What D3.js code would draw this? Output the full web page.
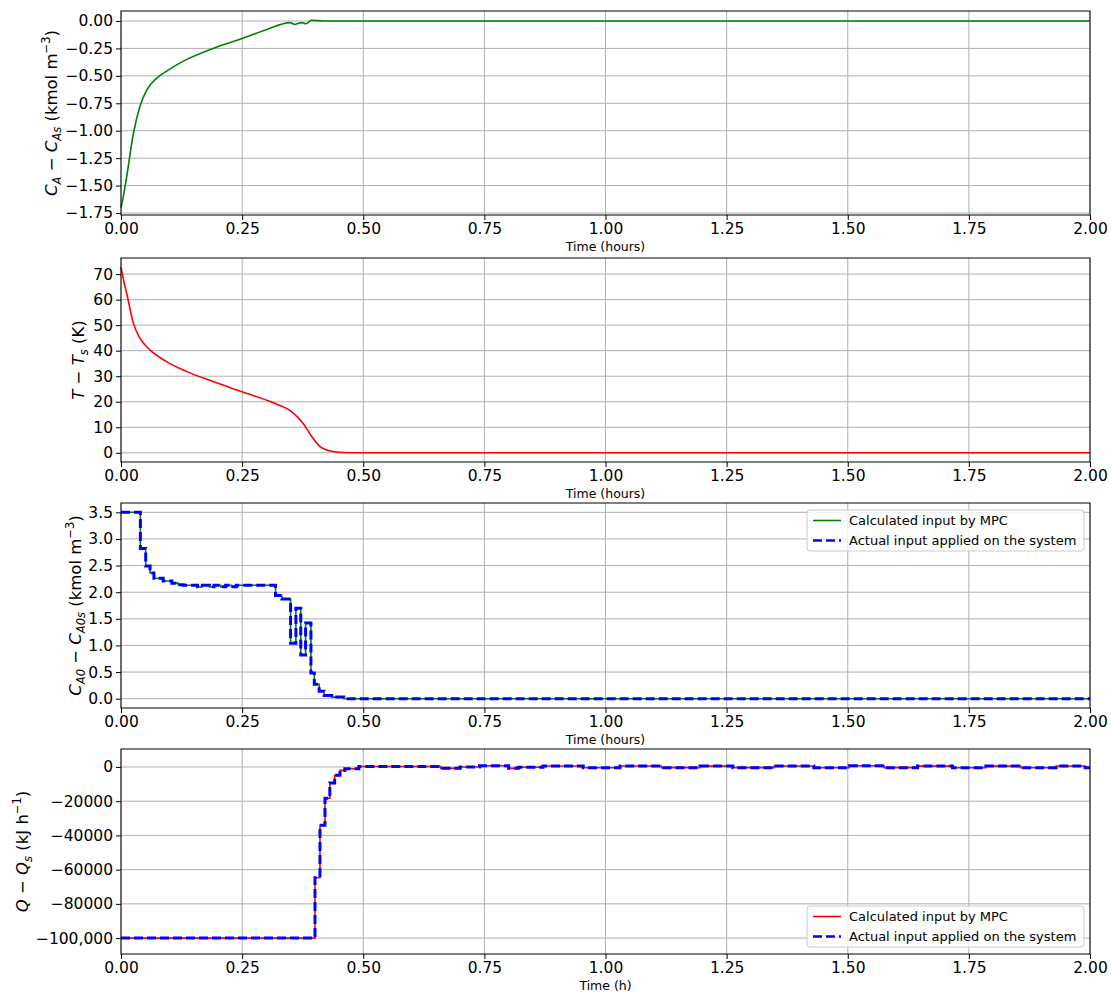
<!DOCTYPE html>
<html>
<head>
<meta charset="utf-8">
<script src="https://cdn.jsdelivr.net/npm/d3@7"></script>
<style>
  body { margin: 0; background: #fff; }
  text { font-family: "DejaVu Sans", sans-serif; fill: #000; }
</style>
</head>
<body>
<script>
// ---- data ----
const timeCA = [0, 0.006, 0.0117, 0.0254, 0.039, 0.053, 0.074, 0.095, 0.115, 0.136, 0.19, 0.25, 0.30, 0.349, 0.359, 0.366, 0.373, 0.382, 0.393, 0.42, 2.0];
const devCA = [-1.70, -1.57, -1.42, -1.03, -0.78, -0.63, -0.52, -0.455, -0.40, -0.35, -0.25, -0.16, -0.08, -0.015, -0.032, -0.02, -0.015, -0.025, 0.006, 0.0, 0.0];

const timeT = [0, 0.006, 0.0117, 0.0254, 0.039, 0.06, 0.094, 0.136, 0.19, 0.25, 0.314, 0.352, 0.376, 0.394, 0.411, 0.432, 0.46, 0.5, 2.0];
const devT = [72.7, 67.0, 62.5, 50.8, 44.9, 40.3, 35.7, 31.8, 27.9, 23.9, 19.6, 16.1, 11.5, 6.3, 2.4, 0.7, 0.1, 0, 0];

const stepTimeCA0 = [0, 0.040, 0.051, 0.060, 0.068, 0.087, 0.105, 0.118, 0.129, 0.158, 0.168, 0.183, 0.192, 0.206, 0.216, 0.228, 0.238, 0.319, 0.332, 0.350, 0.361, 0.371, 0.381, 0.392, 0.399, 0.409, 0.419, 0.435, 0.46, 2.0];
const stepCA0 = [3.5, 2.82, 2.49, 2.36, 2.26, 2.21, 2.17, 2.14, 2.13, 2.10, 2.13, 2.10, 2.13, 2.10, 2.13, 2.10, 2.13, 1.94, 1.87, 1.04, 1.70, 0.82, 1.42, 0.48, 0.27, 0.14, 0.06, 0.03, 0.0, 0.0];

const stepTimeQ = [0, 0.4004, 0.4107, 0.421, 0.431, 0.441, 0.452, 0.462, 0.491, 0.66, 0.70, 0.74, 0.80, 0.82, 0.871, 0.954, 1.03, 1.115, 1.195, 1.263, 1.348, 1.43, 1.503, 1.575, 1.644, 1.716, 1.785, 1.857, 1.93, 1.99, 2.0];
const stepQ = [-100000, -64700, -34100, -18300, -9300, -4900, -2000, -1000, 300, -800, 0, 700, -800, -200, 600, -500, 600, -400, 500, -400, 600, -500, 700, -400, 500, -500, 500, -500, 600, -500, -500];

const xTickValues = [0, 0.25, 0.5, 0.75, 1.0, 1.25, 1.5, 1.75, 2.0];
const xTickLabels = ["0.00", "0.25", "0.50", "0.75", "1.00", "1.25", "1.50", "1.75", "2.00"];

const yTicksCA = [0, -0.25, -0.5, -0.75, -1.0, -1.25, -1.5, -1.75];
const yLabelsCA = ["0.00", "\u22120.25", "\u22120.50", "\u22120.75", "\u22121.00", "\u22121.25", "\u22121.50", "\u22121.75"];
const yTicksT = [0, 10, 20, 30, 40, 50, 60, 70];
const yLabelsT = ["0", "10", "20", "30", "40", "50", "60", "70"];
const yTicksCA0 = [0, 0.5, 1.0, 1.5, 2.0, 2.5, 3.0, 3.5];
const yLabelsCA0 = ["0.0", "0.5", "1.0", "1.5", "2.0", "2.5", "3.0", "3.5"];
const yTicksQ = [0, -20000, -40000, -60000, -80000, -100000];
const yLabelsQ = ["0", "\u221220000", "\u221240000", "\u221260000", "\u221280000", "\u2212100,000"];

const legendNames = ["Calculated input by MPC", "Actual input applied on the system"];

// ---- layout ----
const width = 1111, height = 992;
const plotLeft = 121, plotRight = 1090;

const svg = d3.select("body").append("svg")
  .attr("width", width)
  .attr("height", height);

const x = d3.scaleLinear().domain([0, 2]).range([plotLeft, plotRight]);

// builds a rotated axis label from parts: [text, italic, shift]
function yLabel(g, px, cy, parts) {
  const t = g.append("text")
    .attr("transform", `translate(${px},${cy}) rotate(-90)`)
    .attr("text-anchor", "middle")
    .style("font-size", "16.5px");
  let cur = 0;
  parts.forEach(p => {
    const shift = p[2] || 0;
    t.append("tspan")
      .attr("dy", shift - cur)
      .style("font-style", p[1] ? "italic" : "normal")
      .style("font-size", shift !== 0 ? "11.5px" : "16.5px")
      .text(p[0]);
    cur = shift;
  });
}

function drawPanel(p) {
  const y = d3.scaleLinear().domain(p.yDomain).range([p.bottom, p.top]);
  const g = svg.append("g");

  // grid
  g.append("g").selectAll("line").data(xTickValues).enter().append("line")
    .attr("x1", d => x(d)).attr("x2", d => x(d))
    .attr("y1", p.top).attr("y2", p.bottom)
    .style("stroke", "#b0b0b0").style("stroke-width", 1);
  g.append("g").selectAll("line").data(p.yTicks).enter().append("line")
    .attr("x1", plotLeft).attr("x2", plotRight)
    .attr("y1", d => y(d)).attr("y2", d => y(d))
    .style("stroke", "#b0b0b0").style("stroke-width", 1);

  // series
  p.series.forEach(s => {
    const pts = s.t.map((t, i) => [t, s.v[i]]);
    const line = d3.line()
      .x(d => x(d[0])).y(d => y(d[1]))
      .curve(s.curve);
    g.append("path")
      .datum(pts)
      .attr("d", line)
      .style("fill", "none")
      .style("stroke", s.color)
      .style("stroke-width", s.width)
      .style("stroke-dasharray", s.dash || null);
  });

  // axes
  const xAxis = d3.axisBottom(x).tickValues(xTickValues)
    .tickFormat((d, i) => xTickLabels[i]).tickSize(5).tickSizeOuter(0).tickPadding(3);
  const gx = g.append("g").attr("transform", `translate(0,${p.bottom})`).call(xAxis);
  const yAxis = d3.axisLeft(y).tickValues(p.yTicks)
    .tickFormat((d, i) => p.yTickLabels[i]).tickSize(5).tickSizeOuter(0).tickPadding(3);
  const gy = g.append("g").attr("transform", `translate(${plotLeft},0)`).call(yAxis);
  [gx, gy].forEach(a => {
    a.select(".domain").remove();
    a.selectAll("text").style("font-size", "15.5px").style("font-family", "DejaVu Sans");
  });

  // frame
  g.append("rect")
    .attr("x", plotLeft).attr("y", p.top)
    .attr("width", plotRight - plotLeft).attr("height", p.bottom - p.top)
    .style("fill", "none").style("stroke", "#000").style("stroke-width", 1);

  // x label
  g.append("text")
    .attr("x", (plotLeft + plotRight) / 2)
    .attr("y", p.bottom + 36)
    .attr("text-anchor", "middle")
    .style("font-size", "12.5px")
    .text(p.xTitle);

  yLabel(g, p.labelX, (p.top + p.bottom) / 2, p.yTitle);

  // legend
  if (p.legend) {
    const lx = 807, ly = p.legendTop;
    const lg = g.append("g");
    lg.append("rect")
      .attr("x", lx).attr("y", ly).attr("width", 277).attr("height", 41).attr("rx", 3)
      .style("fill", "#fff").style("fill-opacity", 0.8)
      .style("stroke", "#cccccc").style("stroke-width", 1);
    p.legend.forEach((s, i) => {
      const cy = ly + 10.5 + i * 20;
      lg.append("line")
        .attr("x1", lx + 6).attr("x2", lx + 34).attr("y1", cy).attr("y2", cy)
        .style("stroke", s.color).style("stroke-width", s.legendWidth)
        .style("stroke-dasharray", s.dash || null);
      lg.append("text")
        .attr("x", lx + 42).attr("y", cy + 4.6)
        .style("font-size", "13px")
        .text(legendNames[i]);
    });
  }
}

drawPanel({
  top: 11, bottom: 215, yDomain: [-1.768, 0.091],
  yTicks: yTicksCA, yTickLabels: yLabelsCA,
  xTitle: "Time (hours)", labelX: 57,
  yTitle: [["C", true], ["A", true, 4], [" \u2212 ", false], ["C", true], ["As", true, 4], [" (kmol m", false], ["\u22123", false, -7], [")", false]],
  series: [{ t: timeCA, v: devCA, color: "#008000", width: 1.6, curve: d3.curveMonotoneX }]
});

drawPanel({
  top: 258, bottom: 462, yDomain: [-3.6, 76.3],
  yTicks: yTicksT, yTickLabels: yLabelsT,
  xTitle: "Time (hours)", labelX: 84,
  yTitle: [["T", true], [" \u2212 ", false], ["T", true], ["s", true, 4], [" (K)", false]],
  series: [{ t: timeT, v: devT, color: "#ff0000", width: 1.6, curve: d3.curveMonotoneX }]
});

const inputSeries3 = [
  { t: stepTimeCA0, v: stepCA0, color: "#008000", width: 1.6, legendWidth: 1.6, curve: d3.curveStepAfter },
  { t: stepTimeCA0, v: stepCA0, color: "#0000ff", width: 3, legendWidth: 2.6, dash: "9,4", curve: d3.curveStepAfter }
];
drawPanel({
  top: 503, bottom: 708, yDomain: [-0.175, 3.675],
  yTicks: yTicksCA0, yTickLabels: yLabelsCA0,
  xTitle: "Time (hours)", labelX: 81,
  yTitle: [["C", true], ["A0", true, 4], [" \u2212 ", false], ["C", true], ["A0s", true, 4], [" (kmol m", false], ["\u22123", false, -7], [")", false]],
  series: inputSeries3, legend: inputSeries3, legendTop: 510
});

const inputSeries4 = [
  { t: stepTimeQ, v: stepQ, color: "#ff0000", width: 1.6, legendWidth: 1.6, curve: d3.curveStepAfter },
  { t: stepTimeQ, v: stepQ, color: "#0000ff", width: 3, legendWidth: 2.6, dash: "9,4", curve: d3.curveStepAfter }
];
drawPanel({
  top: 749, bottom: 954, yDomain: [-109300, 10500],
  yTicks: yTicksQ, yTickLabels: yLabelsQ,
  xTitle: "Time (h)", labelX: 28,
  yTitle: [["Q", true], [" \u2212 ", false], ["Q", true], ["s", true, 4], [" (kJ h", false], ["\u22121", false, -7], [")", false]],
  series: inputSeries4, legend: inputSeries4, legendTop: 906
});
</script>
</body>
</html>
